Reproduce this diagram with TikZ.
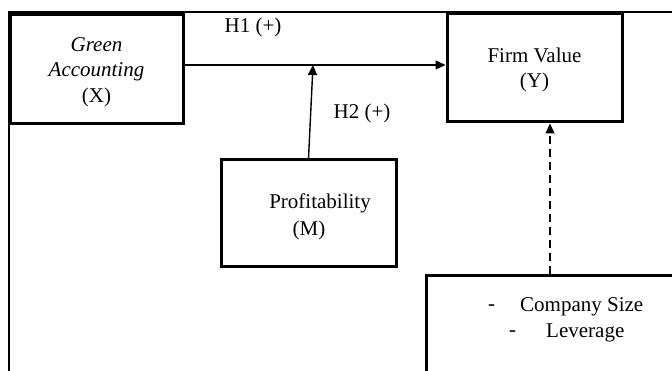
\documentclass[tikz,border=0pt]{standalone}
\usepackage{fontspec}
\setmainfont{Liberation Serif}
\usetikzlibrary{arrows.meta}
\begin{document}
\begin{tikzpicture}[x=1pt,y=-1pt,
  box/.style={draw,line width=3pt,inner sep=0pt},
  txt/.style={font=\fontsize{21}{25.5}\selectfont,inner sep=0pt,align=center},
  arr/.style={line width=1.4pt,-{Triangle[length=10pt,width=9pt]}},
  darr/.style={arr,dash pattern=on 8pt off 5pt}]
\useasboundingbox (0,0) rectangle (672,371);
\fill[white] (0,0) rectangle (672,371);
% outer frame
\draw[line width=1.3pt] (9,371) -- (9,12) -- (672,12);
% boxes
\node[box,minimum width=173pt,minimum height=109pt] (X) at (96.5,69.5) {};
\node[box,minimum width=175pt,minimum height=108pt] (Y) at (534.5,68) {};
\node[box,minimum width=175pt,minimum height=107pt] (M) at (308.5,213.5) {};
\node[box,minimum width=300pt,minimum height=140pt,anchor=north west] (C) at (425,274) {};
% texts
\node[txt] (xt) at (96.5,72) {\textit{Green}\\\textit{Accounting}\\(X)};
\node[txt] (yt) at (534.5,70) {Firm Value\\(Y)};
\node[txt] (mt1) at (320,203) {Profitability};
\node[txt] (mt2) at (309,230) {(M)};
\node[txt,anchor=west] (cd1) at (488,308) {-};
\node[txt,anchor=west] (ct1) at (520,307) {Company Size};
\node[txt,anchor=west] (cd2) at (509,334) {-};
\node[txt,anchor=west] (ct2) at (546,333) {Leverage};
\node[txt] (h1) at (253,27) {H1 (+)};
\node[txt] (h2) at (362,113) {H2 (+)};
% connectors
\coordinate (h1a) at (183,65);
\draw[arr] (h1a) -- (h1a -| Y.west);
\coordinate (h2e) at (313,65);
\draw[arr] (M.north) -- (h2e);
\coordinate (cTop) at (550,274);
\draw[darr] (cTop) -- (cTop |- Y.south);
\end{tikzpicture}
\end{document}
